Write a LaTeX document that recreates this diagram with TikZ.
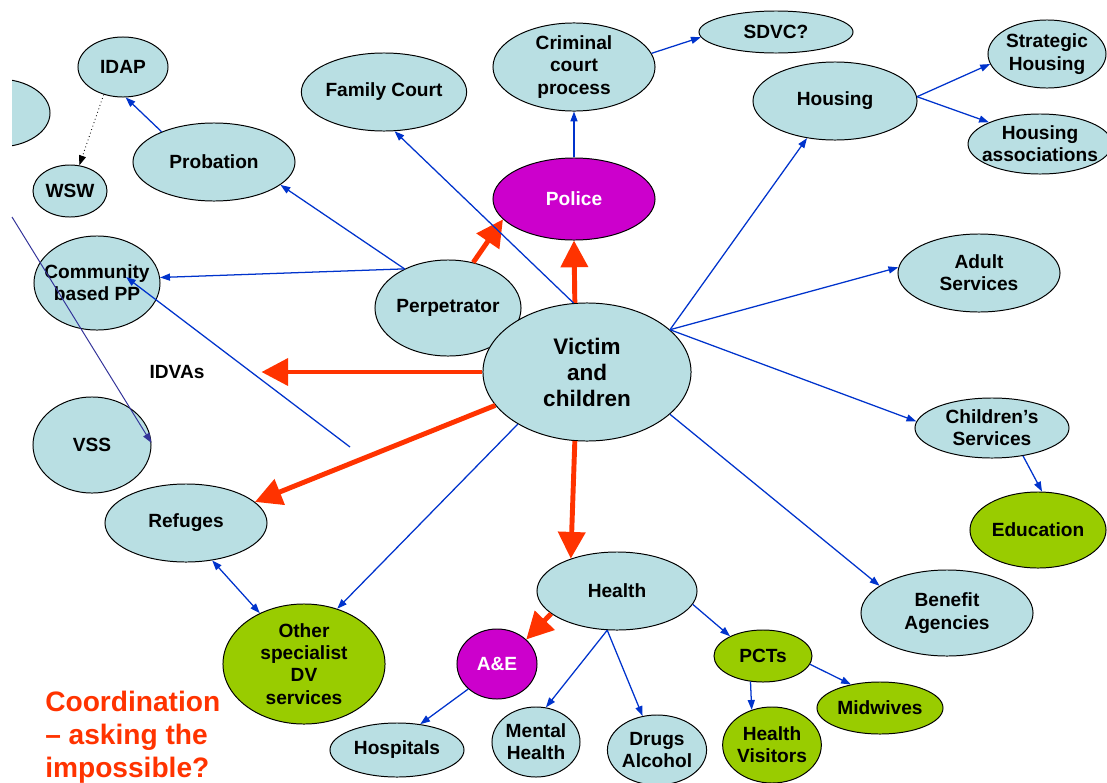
\documentclass[tikz,border=0pt]{standalone}
\usepackage{fontspec}
\setmainfont{Liberation Sans}
\usepackage{tikz}
\usetikzlibrary{arrows.meta,shapes.geometric}

\definecolor{paleblue}{HTML}{B9DFE3}
\definecolor{hotpink}{HTML}{CC00CC}
\definecolor{limegreen}{HTML}{99CC00}
\definecolor{alarmred}{HTML}{FF3300}
\definecolor{linkblue}{HTML}{0033CC}
\definecolor{darknavy}{HTML}{333399}

\tikzset{
  agency/.style={ellipse, draw=black, line width=0.7pt, fill=paleblue, inner sep=0pt, align=center,
    font=\fontsize{13.6}{15.8}\selectfont\bfseries},
  emergency/.style={agency, fill=hotpink, text=white},
  special/.style={agency, fill=limegreen},
  ell/.style 2 args={minimum width=#1*0.05cm, minimum height=#2*0.05cm},
  link/.style={draw=linkblue, line width=0.9pt, -{Triangle[length=7pt,width=5pt]}},
  bigarr/.style={draw=alarmred, line width=3.5pt, -{Triangle[length=19pt,width=19pt]}},
}

\begin{document}
\begin{tikzpicture}[x=0.025cm, y=-0.025cm]

\useasboundingbox (0,0) rectangle (1107,783);

% the one that runs off the slide
\begin{scope}
\clip (12,0) rectangle (1107,783);
\node[agency, ell={52}{34}] (cutoff) at (-2,113) {};
\end{scope}

\node[agency, ell={45}{30}] (idap) at (123,67) {IDAP};
\node[agency, ell={37}{26}] (wsw) at (70,191) {WSW};
\node[agency, ell={81}{39}] (probation) at (214,162) {Probation};
\node[agency, ell={63}{47}, inner xsep=-8pt] (community) at (97,283) {Community\\based PP};
\node[agency, ell={59}{48}] (vss) at (92,445) {VSS};
\node[agency, ell={81}{39}] (refuges) at (186,523) {Refuges};
\node[special, ell={81}{60}] (other) at (304,664) {Other\\specialist\\DV\\services};

\node[agency, ell={81}{39}] (famcourt) at (384,92) {Family Court};
\node[agency, ell={81}{39}] (criminal) at (574,67) {Criminal\\court\\process};
\node[agency, ell={77}{21}] (sdvc) at (776,32) {SDVC?};
\node[emergency, ell={81}{41}] (police) at (574,199) {Police};
\node[agency, ell={73}{48}] (perp) at (448,308) {Perpetrator};
\node[agency, ell={104}{69}, font=\fontsize{16}{18.5}\selectfont\bfseries] (victim) at (587,372) {Victim\\and\\children};

\node[agency, ell={82}{39}] (housing) at (835,101) {Housing};
\node[agency, ell={59}{34}] (strategic) at (1047,54) {Strategic\\Housing};
\node[agency, ell={71}{30}, inner xsep=-5pt] (assoc) at (1040,144) {Housing\\associations};
\node[agency, ell={81}{39}] (adult) at (979,273) {Adult\\Services};
\node[agency, ell={77}{30}] (children) at (992,428) {Children's\\Services};
\node[special, ell={68}{38}] (education) at (1038,530) {Education};
\node[agency, ell={86}{43}] (benefit) at (947,613) {Benefit\\Agencies};

\node[agency, ell={80}{39}] (health) at (617,591) {Health};
\node[emergency, ell={40}{35}] (ae) at (497,664) {A\&E};
\node[agency, ell={67}{27}] (hospitals) at (397,750) {Hospitals};
\node[agency, ell={44}{35}] (mental) at (536,742) {Mental\\Health};
\node[agency, ell={49}{35}] (drugs) at (657,750) {Drugs\\Alcohol};
\node[special, ell={49}{26}] (pcts) at (763,656) {PCTs};
\node[special, ell={49}{38}] (visitors) at (772,745) {Health\\Visitors};
\node[special, ell={63}{26}] (midwives) at (880,708) {Midwives};

\node[font=\fontsize{13.6}{15.8}\selectfont\bfseries] (idvas) at (177,372) {IDVAs};
\node[anchor=north west, inner sep=0pt, align=left, text=alarmred,
  font=\fontsize{20}{23.4}\selectfont\bfseries] (slogan) at (45,691) {Coordination\\-- asking the\\impossible?};

\coordinate (edgetop) at (12,217);
\coordinate (stray) at (350,447);
\coordinate (ppinner) at (126,277);

% thick ones
\draw[bigarr] (victim.west) -- (idvas.east) [shorten >=37pt];
\draw[bigarr] (victim.200) -- (refuges.17);
\draw[bigarr] (victim.100) -- (police.south);
\draw[bigarr] (perp.61) -- (police.196);
\draw[bigarr] (victim.260) -- (health.145);
\draw[bigarr] (health.199) -- (ae.40);

% links
\draw[black, line width=0.6pt, dotted, -{Triangle[length=7pt,width=5pt]}] (idap.235) -- (wsw.70);
\draw[link] (probation.150) -- (idap.275);
\draw[link] (perp.138) -- (probation.341);
\draw[link] (perp.138) -- (community.5);
\draw[link] (stray) -- (ppinner);
\draw[link, draw=darknavy, line width=0.7pt] (edgetop) -- (vss.2);
\draw[link, {Triangle[length=7pt,width=5pt]}-{Triangle[length=7pt,width=5pt]}] (refuges.305) -- (other.131);
\draw[link] (victim.217) -- (other.59);
\draw[link] (victim.101) -- (famcourt.285);
\draw[link] (police.north) -- (criminal.south);
\draw[link] (criminal.10) -- (sdvc.184);
\draw[link] (victim.27) -- (housing.233);
\draw[link] (victim.27) -- (adult.176);
\draw[link] (victim.27) -- (children.175);
\draw[link] (victim.333) -- (benefit.158);
\draw[link] (housing.3) -- (strategic.190);
\draw[link] (housing.3) -- (assoc.157);
\draw[link] (children.318) -- (education.84);
\draw[link] (ae.221) -- (hospitals.48);
\draw[link] (health.256) -- (mental.74);
\draw[link] (health.256) -- (drugs.113);
\draw[link] (health.350) -- (pcts.149);
\draw[link] (pcts.244) -- (visitors.120);
\draw[link] (pcts.350) -- (midwives.141);

\end{tikzpicture}
\end{document}
